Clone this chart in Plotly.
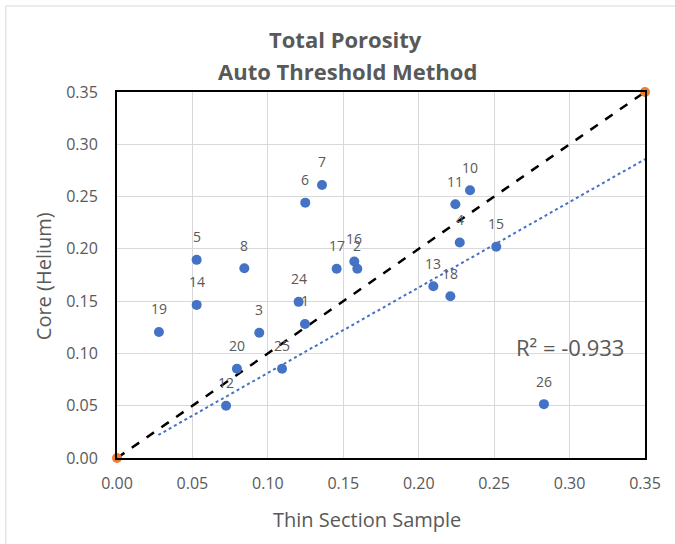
import plotly.graph_objects as go

# Sample data
sample_ids = ["1", "2", "3", "4", "5", "6", "7", "8", "10", "11", "12", "13",
              "14", "15", "16", "17", "18", "19", "20", "24", "25", "26"]
thin_section = [0.1246, 0.1593, 0.0943, 0.2272, 0.0528, 0.1248, 0.1359, 0.0844,
                0.2340, 0.2243, 0.0723, 0.2097, 0.0528, 0.2514, 0.1573, 0.1456,
                0.2210, 0.0278, 0.0795, 0.1204, 0.1094, 0.2830]
core_helium = [0.1282, 0.1809, 0.1198, 0.2061, 0.1895, 0.2442, 0.2611, 0.1815,
               0.2560, 0.2426, 0.0499, 0.1642, 0.1464, 0.2020, 0.1879, 0.1809,
               0.1547, 0.1205, 0.0853, 0.1493, 0.0853, 0.0515]

# 1:1 reference line
one_to_one_x = [0.0, 0.35]
one_to_one_y = [0.0, 0.35]

# Trendline (as drawn)
trend_x = [0.0274, 0.35]
trend_y = [0.022, 0.2857]
r2_text = "R² = -0.933"
r2_pos = (0.300, 0.1064)

x_ticks = [0.0, 0.05, 0.10, 0.15, 0.20, 0.25, 0.30, 0.35]
y_ticks = [0.0, 0.05, 0.10, 0.15, 0.20, 0.25, 0.30, 0.35]

title_lines = ["Total Porosity", "Auto Threshold Method"]
x_title = "Thin Section Sample"
y_title = "Core (Helium)"

GRAY = "#595959"
FONT = "Open Sans, sans-serif"

fig = go.Figure()

fig.add_trace(go.Scatter(
    x=trend_x, y=trend_y, mode="lines",
    line=dict(color="#4472C4", width=2, dash="dot"),
    hoverinfo="skip", showlegend=False))

fig.add_trace(go.Scatter(
    x=one_to_one_x, y=one_to_one_y, mode="lines+markers",
    line=dict(color="black", width=2.5, dash="dash"),
    marker=dict(color="#ED7D31", size=10, line=dict(width=0)),
    cliponaxis=False, showlegend=False))

fig.add_trace(go.Scatter(
    x=thin_section, y=core_helium, mode="markers",
    marker=dict(color="#4472C4", size=10),
    cliponaxis=False, showlegend=False))

for sid, xv, yv in zip(sample_ids, thin_section, core_helium):
    fig.add_annotation(x=xv, y=yv, xref="x", yref="y", text=sid,
                       showarrow=False, yshift=23,
                       font=dict(size=14, color=GRAY, family=FONT))

fig.add_annotation(
    x=r2_pos[0], y=r2_pos[1], xref="x", yref="y", text=r2_text, showarrow=False,
    font=dict(size=22, color=GRAY, family=FONT))

# Chart titles as annotations for exact placement
fig.add_annotation(x=0.433, y=1.145, xref="paper", yref="paper",
                   text="<b>" + title_lines[0] + "</b>", showarrow=False,
                   yanchor="middle", font=dict(size=22, color=GRAY, family=FONT))
fig.add_annotation(x=0.437, y=1.058, xref="paper", yref="paper",
                   text="<b>" + title_lines[1] + "</b>", showarrow=False,
                   yanchor="middle", font=dict(size=22, color=GRAY, family=FONT))
fig.add_annotation(x=0.4735, y=-0.169, xref="paper", yref="paper",
                   text=x_title, showarrow=False, yanchor="middle",
                   font=dict(size=20, color=GRAY, family=FONT))
fig.add_annotation(x=-0.140, y=0.497, xref="paper", yref="paper",
                   text=y_title, showarrow=False, textangle=-90,
                   xanchor="center", yanchor="middle",
                   font=dict(size=20, color=GRAY, family=FONT))

fig.add_shape(type="rect", xref="paper", yref="paper",
              x0=-0.2105, x1=1.3, y0=-0.4, y1=1.235,
              line=dict(color="#d9d9d9", width=1), layer="below")

axis_common = dict(
    range=[0, 0.35], tickformat=".2f",
    showgrid=True, gridcolor="#d9d9d9", gridwidth=1,
    showline=True, linecolor="black", linewidth=2, mirror=True,
    zeroline=False, ticks="",
    tickfont=dict(size=16, color=GRAY, family=FONT),
)

fig.update_xaxes(**axis_common, tickvals=x_ticks, ticklabelstandoff=10)
fig.update_yaxes(**axis_common, tickvals=y_ticks, ticklabelstandoff=14)

fig.update_layout(
    width=675, height=544,
    margin=dict(l=117, r=30, t=92, b=86),
    paper_bgcolor="white", plot_bgcolor="white",
)

fig.write_html("out.html")
